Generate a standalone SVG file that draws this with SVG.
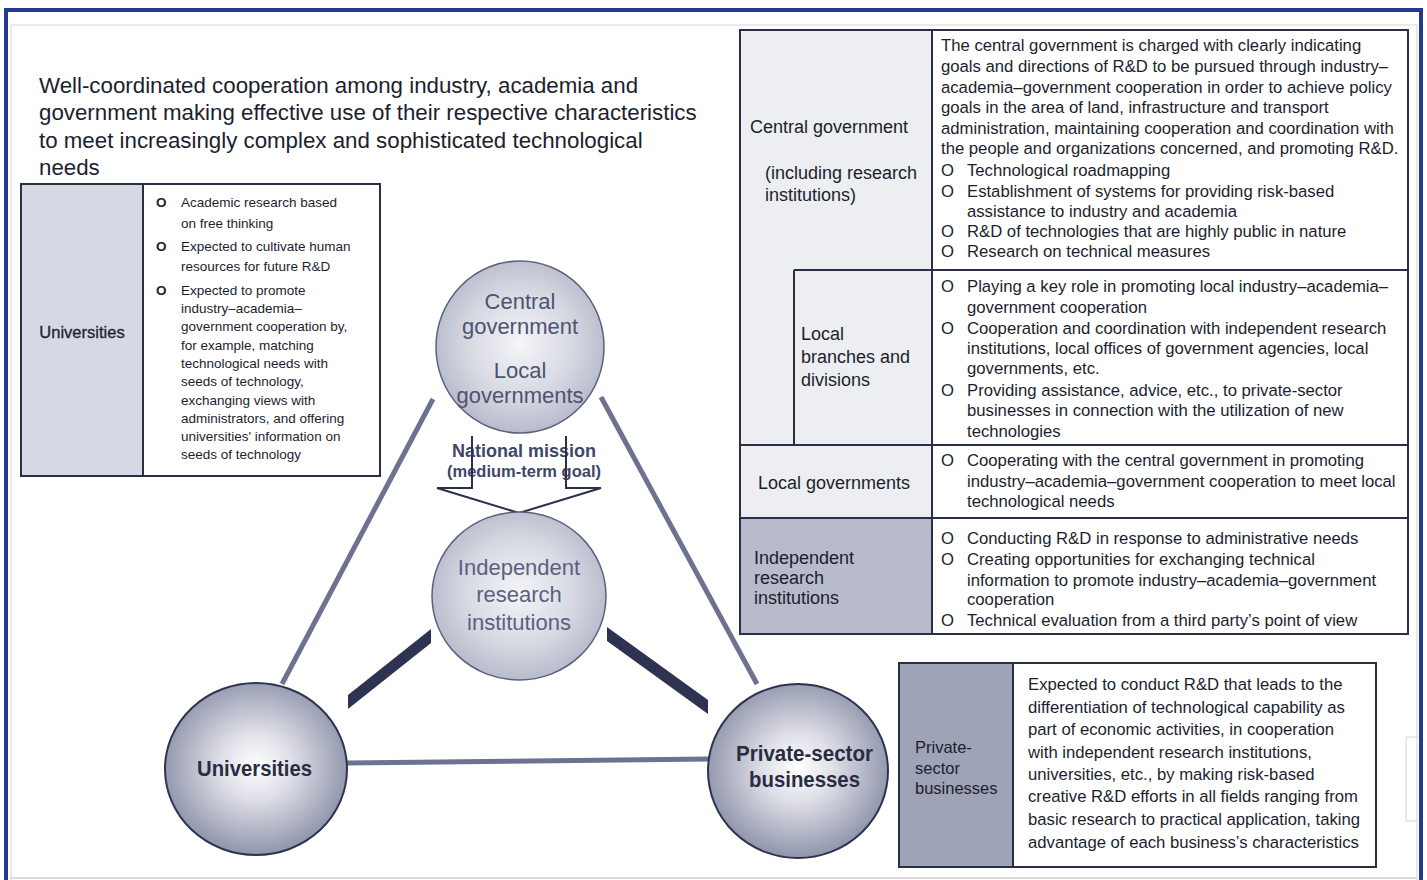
<svg xmlns="http://www.w3.org/2000/svg" width="1427" height="880" viewBox="0 0 1427 880">
<defs>
<radialGradient id="gLight" cx="50%" cy="48%" r="55%">
<stop offset="0" stop-color="#f4f5f8"/>
<stop offset="0.55" stop-color="#d8dae3"/>
<stop offset="1" stop-color="#b4b7c8"/>
</radialGradient>
<radialGradient id="gDark" cx="50%" cy="48%" r="55%">
<stop offset="0" stop-color="#ffffff"/>
<stop offset="0.35" stop-color="#dfe0e8"/>
<stop offset="1" stop-color="#898ea6"/>
</radialGradient>
<style>
.t{font-family:"Liberation Sans",Arial,sans-serif;fill:#1c1e2e;}
.title{font-size:22.3px;}
.ub{font-size:13.5px;}
.rt{font-size:16.7px;}
.lbl{font-size:18px;}
.pl{font-size:16.5px;}
.cg{font-size:22px;fill:#4d5470;}
.ci{font-size:22px;fill:#5b6180;}
.cb{font-size:22px;font-weight:bold;fill:#2a2d42;}
.nm{font-weight:bold;fill:#3f4668;}
.box{fill:none;stroke:#2b2f45;stroke-width:2;}
.conn{stroke:#6c7290;stroke-width:5;fill:none;stroke-linecap:butt;}
.wedge{fill:#2d3350;}
</style>
</defs>
<rect x="0" y="0" width="1427" height="880" fill="#ffffff"/>
<g id="frame">
<path d="M11,880 V25 H1417 V880" fill="none" stroke="#d4d4d8" stroke-width="1"/>
<line x1="11" y1="878" x2="1417" y2="878" stroke="#d0d0d4" stroke-width="1.5"/>
<path d="M6,882 V10 H1421 V882" fill="none" stroke="#253a8e" stroke-width="4"/>
<path d="M1418,737 H1406 V821 H1418" fill="none" stroke="#d4d4d8" stroke-width="1"/>
</g>

<g id="title">
<text class="t title" x="39" y="93">Well-coordinated cooperation among industry, academia and</text>
<text class="t title" x="39" y="120">government making effective use of their respective characteristics</text>
<text class="t title" x="39" y="148">to meet increasingly complex and sophisticated technological</text>
<text class="t title" x="39" y="175">needs</text>
</g>

<g id="connectors">
<line class="conn" x1="433" y1="399" x2="282" y2="684"/>
<line class="conn" x1="601" y1="397" x2="757" y2="684"/>
<line class="conn" x1="347" y1="763" x2="710" y2="759"/>
<polygon class="wedge" points="348,695 431,629 431,643 348,709"/>
<polygon class="wedge" points="607,627 708,700 708,714 607,641"/>
</g>

<g id="universities-box">
<rect x="21" y="184" width="122" height="292" fill="#d6d9e3"/>
<rect x="21" y="184" width="359" height="292" class="box"/>
<line x1="143" y1="184" x2="143" y2="476" stroke="#2b2f45" stroke-width="2"/>
<text class="t" x="82" y="338" text-anchor="middle" font-size="16.5" fill="#2a2d42" stroke="#2a2d42" stroke-width="0.35">Universities</text>
<text class="t ub" x="156" y="207" font-weight="bold">O</text>
<text class="t ub" x="181" y="207">Academic research based</text>
<text class="t ub" x="181" y="228">on free thinking</text>
<text class="t ub" x="156" y="251" font-weight="bold">O</text>
<text class="t ub" x="181" y="251">Expected to cultivate human</text>
<text class="t ub" x="181" y="271">resources for future R&amp;D</text>
<text class="t ub" x="156" y="295" font-weight="bold">O</text>
<text class="t ub" x="181" y="295">Expected to promote</text>
<text class="t ub" x="181" y="313">industry–academia–</text>
<text class="t ub" x="181" y="331">government cooperation by,</text>
<text class="t ub" x="181" y="350">for example, matching</text>
<text class="t ub" x="181" y="368">technological needs with</text>
<text class="t ub" x="181" y="386">seeds of technology,</text>
<text class="t ub" x="181" y="405">exchanging views with</text>
<text class="t ub" x="181" y="423">administrators, and offering</text>
<text class="t ub" x="181" y="441">universities' information on</text>
<text class="t ub" x="181" y="459">seeds of technology</text>
</g>

<g id="central-circle">
<ellipse cx="520" cy="347" rx="84" ry="86" fill="url(#gLight)" stroke="#5a6080" stroke-width="1.5"/>
<text class="t cg" x="520" y="309" text-anchor="middle">Central</text>
<text class="t cg" x="520" y="334" text-anchor="middle">government</text>
<text class="t cg" x="520" y="378" text-anchor="middle">Local</text>
<text class="t cg" x="520" y="403" text-anchor="middle">governments</text>
</g>

<g id="national-mission">
<text class="t nm" x="524" y="457" text-anchor="middle" font-size="18">National mission</text>
<text class="t nm" x="524" y="477" text-anchor="middle" font-size="16.5">(medium-term goal)</text>
<path d="M472,436 V488 H437 L519,513 L601,488 H566 V436" fill="none" stroke="#2a2f4a" stroke-width="2"/>
</g>

<g id="independent-circle">
<ellipse cx="519" cy="596" rx="87" ry="84" fill="url(#gLight)" stroke="#5a6080" stroke-width="1.5"/>
<text class="t ci" x="519" y="575" text-anchor="middle">Independent</text>
<text class="t ci" x="519" y="602" text-anchor="middle">research</text>
<text class="t ci" x="519" y="630" text-anchor="middle">institutions</text>
</g>

<g id="universities-circle">
<ellipse cx="256" cy="769" rx="91" ry="86" fill="url(#gDark)" stroke="#2e3350" stroke-width="2"/>
<text class="t cb" x="197" y="776" textLength="115" lengthAdjust="spacingAndGlyphs">Universities</text>
</g>

<g id="private-circle">
<ellipse cx="798" cy="771" rx="90" ry="87" fill="url(#gDark)" stroke="#2e3350" stroke-width="2"/>
<text class="t cb" x="736" y="761" textLength="137" lengthAdjust="spacingAndGlyphs">Private-sector</text>
<text class="t cb" x="749" y="787" textLength="111" lengthAdjust="spacingAndGlyphs">businesses</text>
</g>

<g id="right-table">
<rect x="740" y="30" width="192" height="488" fill="#eceef2"/>
<rect x="740" y="518" width="192" height="116" fill="#b8bbcb"/>
<rect x="740" y="30" width="668" height="604" class="box"/>
<line x1="932" y1="30" x2="932" y2="634" stroke="#2b2f45" stroke-width="2"/>
<line x1="794" y1="270" x2="1408" y2="270" stroke="#2b2f45" stroke-width="2"/>
<line x1="794" y1="270" x2="794" y2="445" stroke="#2b2f45" stroke-width="2"/>
<line x1="740" y1="445" x2="1408" y2="445" stroke="#2b2f45" stroke-width="2"/>
<line x1="740" y1="518" x2="1408" y2="518" stroke="#2b2f45" stroke-width="2"/>

<text class="t lbl" x="750" y="133">Central government</text>
<text class="t lbl" x="765" y="179">(including research</text>
<text class="t lbl" x="765" y="201">institutions)</text>
<text class="t lbl" x="801" y="340">Local</text>
<text class="t lbl" x="801" y="363">branches and</text>
<text class="t lbl" x="801" y="386">divisions</text>
<text class="t lbl" x="834" y="489" text-anchor="middle">Local governments</text>
<text class="t lbl" x="754" y="564">Independent</text>
<text class="t lbl" x="754" y="584">research</text>
<text class="t lbl" x="754" y="604">institutions</text>

<text class="t rt" x="941" y="51">The central government is charged with clearly indicating</text>
<text class="t rt" x="941" y="72">goals and directions of R&amp;D to be pursued through industry–</text>
<text class="t rt" x="941" y="93">academia–government cooperation in order to achieve policy</text>
<text class="t rt" x="941" y="113">goals in the area of land, infrastructure and transport</text>
<text class="t rt" x="941" y="134">administration, maintaining cooperation and coordination with</text>
<text class="t rt" x="941" y="154">the people and organizations concerned, and promoting R&amp;D.</text>
<text class="t rt" x="941" y="176">O</text><text class="t rt" x="967" y="176">Technological roadmapping</text>
<text class="t rt" x="941" y="197">O</text><text class="t rt" x="967" y="197">Establishment of systems for providing risk-based</text>
<text class="t rt" x="967" y="217">assistance to industry and academia</text>
<text class="t rt" x="941" y="237">O</text><text class="t rt" x="967" y="237">R&amp;D of technologies that are highly public in nature</text>
<text class="t rt" x="941" y="257">O</text><text class="t rt" x="967" y="257">Research on technical measures</text>

<text class="t rt" x="941" y="292">O</text><text class="t rt" x="967" y="292">Playing a key role in promoting local industry–academia–</text>
<text class="t rt" x="967" y="313">government cooperation</text>
<text class="t rt" x="941" y="334">O</text><text class="t rt" x="967" y="334">Cooperation and coordination with independent research</text>
<text class="t rt" x="967" y="354">institutions, local offices of government agencies, local</text>
<text class="t rt" x="967" y="374">governments, etc.</text>
<text class="t rt" x="941" y="396">O</text><text class="t rt" x="967" y="396">Providing assistance, advice, etc., to private-sector</text>
<text class="t rt" x="967" y="416">businesses in connection with the utilization of new</text>
<text class="t rt" x="967" y="437">technologies</text>

<text class="t rt" x="941" y="466">O</text><text class="t rt" x="967" y="466">Cooperating with the central government in promoting</text>
<text class="t rt" x="967" y="487">industry–academia–government cooperation to meet local</text>
<text class="t rt" x="967" y="507">technological needs</text>

<text class="t rt" x="941" y="544">O</text><text class="t rt" x="967" y="544">Conducting R&amp;D in response to administrative needs</text>
<text class="t rt" x="941" y="565">O</text><text class="t rt" x="967" y="565">Creating opportunities for exchanging technical</text>
<text class="t rt" x="967" y="586">information to promote industry–academia–government</text>
<text class="t rt" x="967" y="605">cooperation</text>
<text class="t rt" x="941" y="626">O</text><text class="t rt" x="967" y="626">Technical evaluation from a third party’s point of view</text>
</g>

<g id="private-box">
<rect x="899" y="663" width="114" height="204" fill="#9fa3b7"/>
<rect x="899" y="663" width="477" height="204" class="box"/>
<line x1="1013" y1="663" x2="1013" y2="867" stroke="#2b2f45" stroke-width="2"/>
<text class="t pl" x="915" y="753">Private-</text>
<text class="t pl" x="915" y="774">sector</text>
<text class="t pl" x="915" y="794">businesses</text>
<text class="t rt" x="1028" y="690">Expected to conduct R&amp;D that leads to the</text>
<text class="t rt" x="1028" y="713">differentiation of technological capability as</text>
<text class="t rt" x="1028" y="735">part of economic activities, in cooperation</text>
<text class="t rt" x="1028" y="758">with independent research institutions,</text>
<text class="t rt" x="1028" y="780">universities, etc., by making risk-based</text>
<text class="t rt" x="1028" y="802">creative R&amp;D efforts in all fields ranging from</text>
<text class="t rt" x="1028" y="825">basic research to practical application, taking</text>
<text class="t rt" x="1028" y="848">advantage of each business’s characteristics</text>
</g>
</svg>
